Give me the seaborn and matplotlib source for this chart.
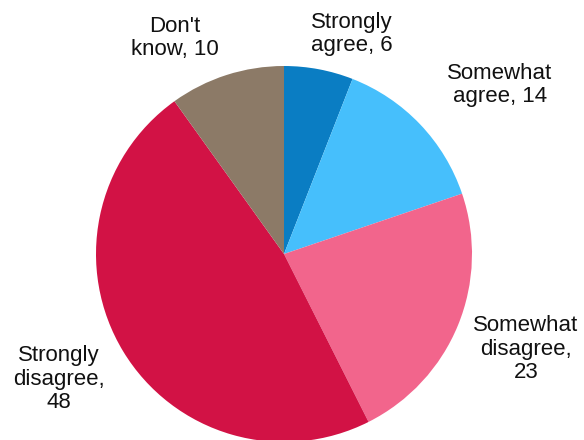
import matplotlib
matplotlib.use("Agg")
import matplotlib.pyplot as plt
import seaborn as sns

categories = ["Strongly agree", "Somewhat agree", "Somewhat disagree",
              "Strongly disagree", "Don't know"]
values = [6, 14, 23, 48, 10]
label_texts = ["Strongly\nagree, 6", "Somewhat\nagree, 14", "Somewhat\ndisagree,\n23",
               "Strongly\ndisagree,\n48", "Don't\nknow, 10"]
colors = ["#0A7DC3", "#46BFFC", "#F2658C", "#D21245", "#8C7A67"]

sns.set_theme(style="white")
plt.rcParams["font.family"] = ["Liberation Sans", "DejaVu Sans"]

W, H = 584, 440
fig = plt.figure(figsize=(W / 100, H / 100), dpi=100)
ax = fig.add_axes([0, 0, 1, 1])
ax.set_xlim(0, W)
ax.set_ylim(0, H)
ax.set_aspect("equal")
ax.axis("off")

center = (284, H - 254)
radius = 188
ax.pie(values, colors=colors, startangle=90, counterclock=False,
       center=center, radius=radius, frame=True,
       wedgeprops=dict(linewidth=0))
ax.set_xlim(0, W)
ax.set_ylim(0, H)
ax.axis("off")

# label anchor points (pixels from top-left)
label_pos = [(352, 34), (500, 85), (526, 349), (59, 379), (175, 38)]
for txt, (x, y) in zip(label_texts, label_pos):
    ax.text(x, H - y, txt, ha="center", va="center", multialignment="center",
            fontsize=16, linespacing=1.15, color="#111111")

fig.savefig("out.png", dpi=100)
